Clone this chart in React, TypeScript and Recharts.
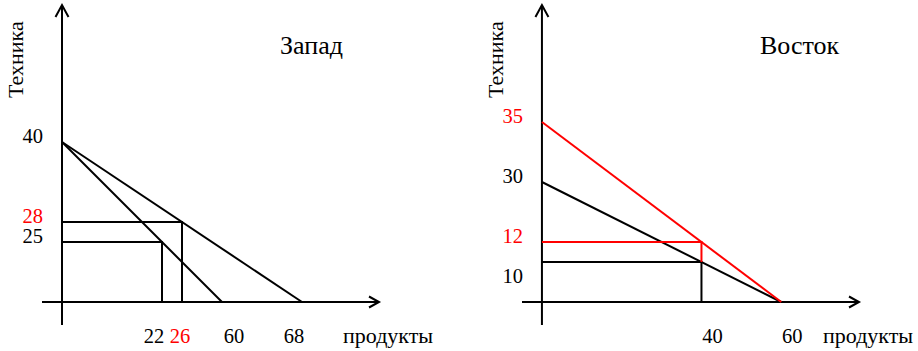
import React from "react";
import { LineChart, Line, XAxis, YAxis, ReferenceLine } from "recharts";

type Pt = { x: number; y: number };

// ---- Запад ----
const westXTicks = [22, 26, 60, 68];
const westYTicks = [40, 28, 25];
const westRedTicks = [26, 28];
const westFrontier60: Pt[] = [{ x: 0, y: 40 }, { x: 60, y: 0 }];
const westFrontier68: Pt[] = [{ x: 0, y: 40 }, { x: 68, y: 0 }];
const westPoint22: Pt[] = [{ x: 0, y: 25 }, { x: 22, y: 25 }, { x: 22, y: 0 }];
const westPoint26: Pt[] = [{ x: 0, y: 28 }, { x: 26, y: 28 }, { x: 26, y: 0 }];

// ---- Восток ----
const eastXTicks = [40, 60];
const eastYTicks = [35, 30, 12, 10];
const eastRedTicks = [35, 12];
const eastFrontier30: Pt[] = [{ x: 0, y: 30 }, { x: 60, y: 0 }];
const eastFrontier35: Pt[] = [{ x: 0, y: 35 }, { x: 60, y: 0 }];
const eastPoint10: Pt[] = [{ x: 0, y: 10 }, { x: 40, y: 10 }, { x: 40, y: 0 }];
const eastPoint12: Pt[] = [{ x: 0, y: 12 }, { x: 40, y: 12 }, { x: 40, y: 10 }];

const FONT = '"Liberation Serif", "Times New Roman", serif';
const RED = "#ff0000";

// the drawing is schematic (not to scale), so every axis gets a piecewise-linear
// scale: stop values and their distance along the axis (px from the axis start)
function schematicScale(values: number[], at: number[]) {
  const total = at[at.length - 1];
  const make = (domain: number[], range: number[]): any => {
    const scale: any = (v: number) => {
      let i = 0;
      while (i < values.length - 2 && v > values[i + 1]) i++;
      const t = (v - values[i]) / (values[i + 1] - values[i]);
      const f = (at[i] + t * (at[i + 1] - at[i])) / total;
      return range[0] + f * (range[1] - range[0]);
    };
    scale.domain = (d?: number[]) => (d === undefined ? domain.slice() : make(d, range));
    scale.range = (r?: number[]) => (r === undefined ? range.slice() : make(domain, r));
    scale.copy = () => make(domain, range);
    scale.ticks = () => values.slice(1, -1);
    return scale;
  };
  return make([values[0], values[values.length - 1]], [0, 1]);
}

const westXScale = schematicScale([-5, 0, 22, 26, 60, 68, 87], [0, 20, 120, 140, 180, 260, 337]);
const westYScale = schematicScale([-6, 0, 25, 28, 40, 74], [0, 23, 83, 103, 183, 320]);
const eastXScale = schematicScale([-5, 0, 40, 60, 80], [0, 20, 180, 260, 338]);
const eastYScale = schematicScale([-6, 0, 10, 12, 30, 35, 65], [0, 23, 63, 83, 143, 203, 320]);

const arrowAxis = (dir: "up" | "right") => (p: any) => {
  const { x1, y1, x2, y2 } = p;
  let d: string;
  if (dir === "right") {
    const tx = Math.max(x1, x2);
    d = `M${tx - 10},${y1 - 5.5}L${tx},${y1}L${tx - 10},${y1 + 5.5}`;
  } else {
    const ty = Math.min(y1, y2);
    d = `M${x1 - 6.5},${ty + 12}L${x1},${ty}L${x1 + 6.5},${ty + 12}`;
  }
  return (
    <g>
      <line x1={x1} y1={y1} x2={x2} y2={y2} stroke="#000" strokeWidth={2} />
      <path d={d} fill="none" stroke="#000" strokeWidth={2} />
    </g>
  );
};

const makeXTick = (red: number[], shift: Record<number, number>) => (p: any) => {
  const v = p.payload.value;
  return (
    <text
      x={p.x + (shift[v] ?? 0)}
      y={p.y + 18}
      textAnchor="middle"
      fontFamily={FONT}
      fontSize={20.5}
      fill={red.includes(v) ? RED : "#000"}
    >
      {v}
    </text>
  );
};

const makeYTick = (red: number[], drop: Record<number, number>) => (p: any) => {
  const v = p.payload.value;
  return (
    <text
      x={p.x + 1}
      y={p.y + 1 + (drop[v] ?? 0)}
      textAnchor="end"
      fontFamily={FONT}
      fontSize={20.5}
      fill={red.includes(v) ? RED : "#000"}
    >
      {v}
    </text>
  );
};

const seg = (data: Pt[], color: string, key: string) => (
  <Line
    key={key}
    data={data}
    dataKey="y"
    type="linear"
    stroke={color}
    strokeWidth={2}
    dot={false}
    activeDot={false}
    legendType="none"
    isAnimationActive={false}
  />
);

interface PanelProps {
  left: number;
  width: number;
  title: string;
  titleX: number;
  xScale: any;
  yScale: any;
  xDomain: number[];
  yDomain: number[];
  xTicks: number[];
  yTicks: number[];
  xTick: any;
  yTick: any;
  children: React.ReactNode;
}

function Panel(props: PanelProps) {
  return (
    <div style={{ position: "absolute", left: props.left, top: 0 }}>
      <LineChart
        width={props.width}
        height={351}
        margin={{ top: 5, right: props.width - 42 - 337, bottom: 0, left: 0 }}
      >
        <XAxis
          type="number"
          dataKey="x"
          scale={props.xScale}
          domain={props.xDomain}
          allowDataOverflow
          ticks={props.xTicks}
          interval={0}
          height={26}
          axisLine={false}
          tickLine={false}
          tickSize={0}
          tickMargin={0}
          tick={props.xTick}
        />
        <YAxis
          type="number"
          scale={props.yScale}
          domain={props.yDomain}
          allowDataOverflow
          ticks={props.yTicks}
          interval={0}
          width={42}
          axisLine={false}
          tickLine={false}
          tickSize={0}
          tickMargin={0}
          tick={props.yTick}
        />
        <ReferenceLine y={0} shape={arrowAxis("right")} />
        <ReferenceLine x={0} shape={arrowAxis("up")} />
        {props.children}
        <text x={props.titleX} y={54} fontFamily={FONT} fontSize={26} fill="#000">
          {props.title}
        </text>
        <text
          x={23}
          y={98}
          transform="rotate(-90 23 98)"
          fontFamily={FONT}
          fontSize={22}
          fill="#000"
        >
          Техника
        </text>
        <text x={343} y={343} fontFamily={FONT} fontSize={22} fill="#000">
          продукты
        </text>
      </LineChart>
    </div>
  );
}

export default function App() {
  return (
    <div
      style={{
        position: "absolute",
        left: 0,
        top: 0,
        width: 918,
        height: 351,
        background: "#fff",
        overflow: "hidden",
      }}
    >
      <Panel
        left={0}
        width={440}
        title="Запад"
        titleX={280}
        xScale={westXScale}
        yScale={westYScale}
        xDomain={[-5, 87]}
        yDomain={[-6, 74]}
        xTicks={westXTicks}
        yTicks={westYTicks}
        xTick={makeXTick(westRedTicks, { 22: -8, 26: -2, 60: 12, 68: -8 })}
        yTick={makeYTick(westRedTicks, {})}
      >
        {seg(westFrontier60, "#000", "w60")}
        {seg(westFrontier68, "#000", "w68")}
        {seg(westPoint22, "#000", "w22")}
        {seg(westPoint26, "#000", "w26")}
      </Panel>
      <Panel
        left={480}
        width={438}
        title="Восток"
        titleX={280}
        xScale={eastXScale}
        yScale={eastYScale}
        xDomain={[-5, 80]}
        yDomain={[-6, 65]}
        xTicks={eastXTicks}
        yTicks={eastYTicks}
        xTick={makeXTick(eastRedTicks, { 40: 11, 60: 11 })}
        yTick={makeYTick(eastRedTicks, { 10: 20 })}
      >
        {seg(eastFrontier30, "#000", "e30")}
        {seg(eastPoint10, "#000", "e10")}
        {seg(eastFrontier35, RED, "e35")}
        {seg(eastPoint12, RED, "e12")}
      </Panel>
    </div>
  );
}
